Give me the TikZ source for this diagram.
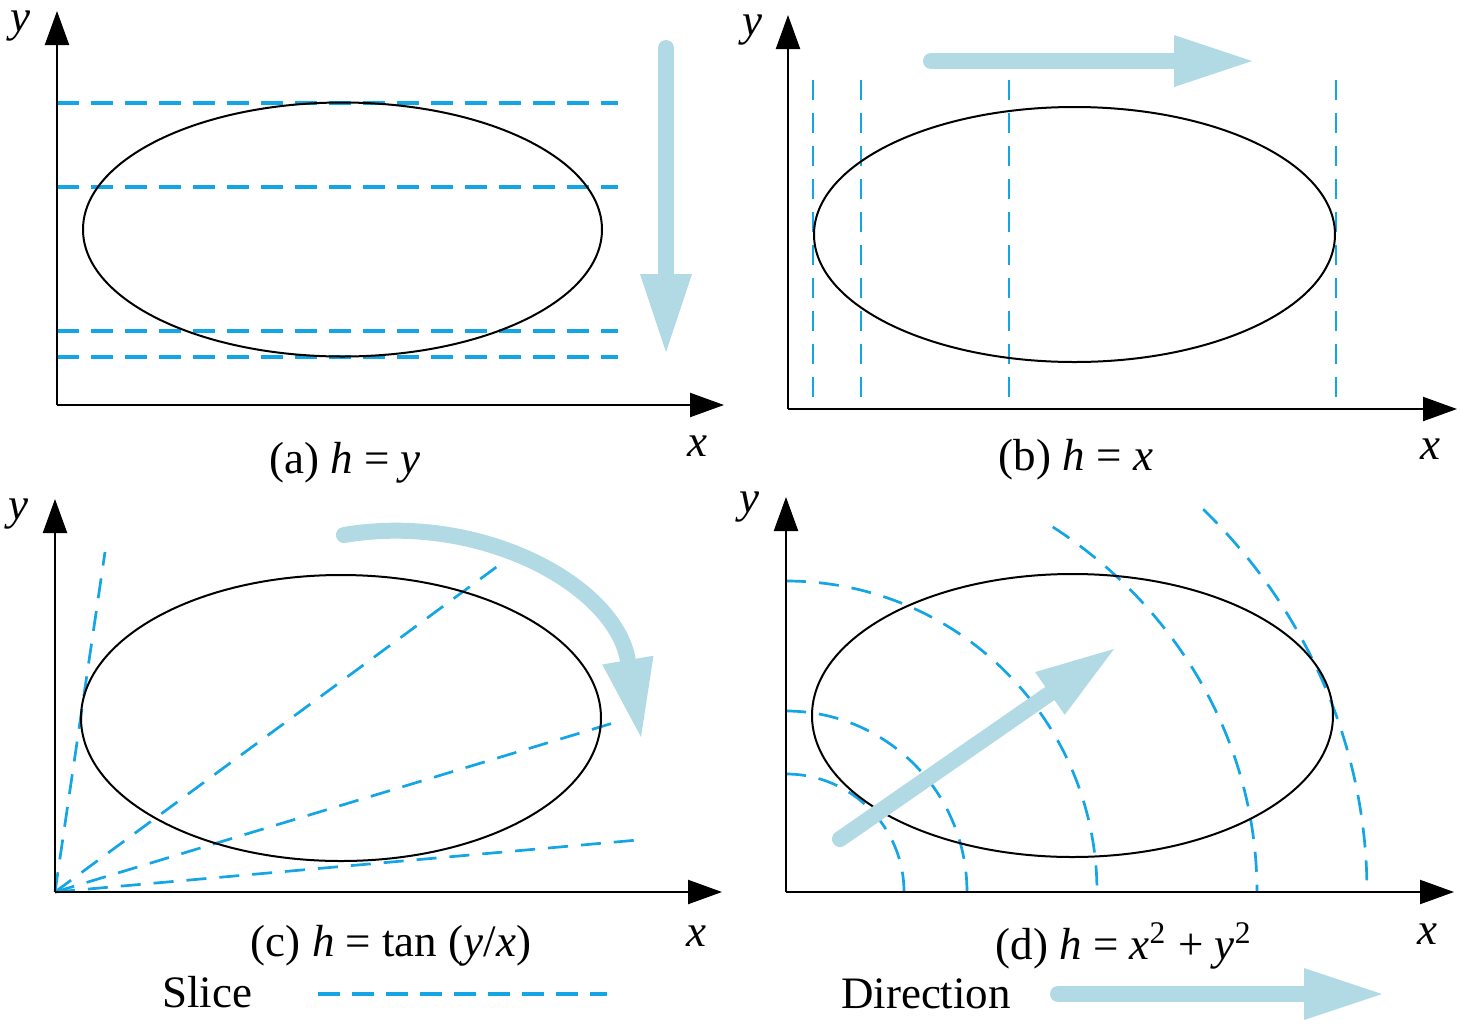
\documentclass[tikz,border=0pt]{standalone}
\usepackage{fontspec}
\setmainfont{Liberation Serif}
\usetikzlibrary{arrows.meta}
\definecolor{sliceblue}{RGB}{20,165,228}
\definecolor{dirblue}{RGB}{178,218,228}

\begin{document}
\begin{tikzpicture}[x=0.1mm, y=-0.1mm,
    axis/.style={line width=0.22mm, -{Triangle[length=3.4mm, width=2.4mm]}},
    slice/.style={sliceblue, line width=0.27mm, dash pattern=on 2mm off 1.3mm},
    thickslice/.style={slice, line width=0.33mm, dash pattern=on 2.2mm off 1.2mm},
    outline/.style={line width=0.2mm},
    dir/.style={dirblue, line width=1.6mm, line cap=round,
      -{Triangle[length=7.8mm, width=5.2mm, line width=0pt]}},
    lbl/.style={inner sep=0pt, font=\fontsize{12.8}{15}\selectfont}]
  \useasboundingbox (0,0) rectangle (1461,1026);

  % (a) h = y
  \begin{scope}
    \coordinate (oa) at (57,405);
    \coordinate (xa) at (724,405);
    \coordinate (ya) at (57,11);
    \foreach \h in {103,187,331,357}
      \draw[thickslice] (57,\h) -- (618,\h);
    \draw[outline] (342.5,229.5) ellipse [x radius=259.5, y radius=127];
    \draw[axis] (oa) -- (xa);
    \draw[axis] (oa) -- (ya);
    \coordinate (sa) at (666,48);
    \coordinate (ta) at (666,352);
    \draw[dir] (sa) -- (ta);

    % Draw labels
    \node[lbl] (yla) at (20,26) {\textit{y}};
    \node[lbl] (xla) at (697,446) {\textit{x}};
    \node[lbl, anchor=base] (capa) at (345,473) {(a) \textit{h} = \textit{y}};
  \end{scope}

  % (b) h = x
  \begin{scope}
    \coordinate (ob) at (788,409);
    \coordinate (xb) at (1457,409);
    \coordinate (yb) at (788,15);
    \foreach \v in {813,861,1009,1336}
      \draw[slice] (\v,80) -- (\v,405);
    \draw[outline] (1074.5,234.5) ellipse [x radius=260.5, y radius=127.5];
    \draw[axis] (ob) -- (xb);
    \draw[axis] (ob) -- (yb);
    \coordinate (sb) at (931,61);
    \coordinate (tb) at (1252,61);
    \draw[dir] (sb) -- (tb);

    % Draw labels
    \node[lbl] (ylb) at (752,30) {\textit{y}};
    \node[lbl] (xlb) at (1430,449) {\textit{x}};
    \node[lbl, anchor=base] (capb) at (1076,470) {(b) \textit{h} = \textit{x}};
  \end{scope}

  % (c) h = tan(y/x)
  \begin{scope}
    \coordinate (oc) at (55,892);
    \coordinate (xc) at (722,892);
    \coordinate (yc) at (55,499);
    \foreach \p in {(105,552),(506,560),(623,720),(638,840)}
      \draw[slice] (oc) -- \p;
    \draw[outline] (341,718) ellipse [x radius=260, y radius=143];
    \draw[axis] (oc) -- (xc);
    \draw[axis] (oc) -- (yc);
    \coordinate (sc) at (344,535);
    \coordinate (tc) at (641,737);
    \draw[dir] (sc) .. controls (480,512) and (615,585) .. (tc);

    % Draw labels
    \node[lbl] (ylc) at (18,514) {\textit{y}};
    \node[lbl] (xlc) at (696,936) {\textit{x}};
    \node[lbl, anchor=base] (capc) at (391,956) {(c) \textit{h} = tan (\textit{y}/\textit{x})};
  \end{scope}

  % (d) h = x^2 + y^2
  \begin{scope}
    \coordinate (od) at (786,892);
    \coordinate (xd) at (1454,892);
    \coordinate (yd) at (786,497);
    \foreach \r in {118,181,311}
      \draw[slice] (od) ++(0,-\r) arc[start angle=-90, end angle=0, radius=\r];
    \draw[slice] (od) ++(-55.5:471 and 443) arc[start angle=-55.5, end angle=0, x radius=471, y radius=443];
    \draw[slice] (od) ++(-44.1:581 and 550) arc[start angle=-44.1, end angle=0, x radius=581, y radius=550];
    \draw[outline] (1072.5,715.5) ellipse [x radius=260.5, y radius=141.5];
    \draw[axis] (od) -- (xd);
    \draw[axis] (od) -- (yd);
    \coordinate (sd) at (840,839);
    \coordinate (td) at (1114,649);
    \draw[dir] (sd) -- (td);

    % Draw labels
    \node[lbl] (yld) at (749,507) {\textit{y}};
    \node[lbl] (xld) at (1427,934) {\textit{x}};
    \node[lbl, anchor=base] (capd) at (1124,959) {(d) \textit{h} = \textit{x}\textsuperscript{2} + \textit{y}\textsuperscript{2}};
  \end{scope}

  % legend
  \node[lbl, anchor=base] (slicetxt) at (207,1007) {Slice};
  \coordinate (sl0) at (318,994);
  \coordinate (sl1) at (607,994);
  \draw[thickslice] (sl0) -- (sl1);
  \node[lbl, anchor=base] (dirtxt) at (926,1008) {Direction};
  \coordinate (dl0) at (1058,994);
  \coordinate (dl1) at (1382,994);
  \draw[dir] (dl0) -- (dl1);
\end{tikzpicture}
\end{document}
